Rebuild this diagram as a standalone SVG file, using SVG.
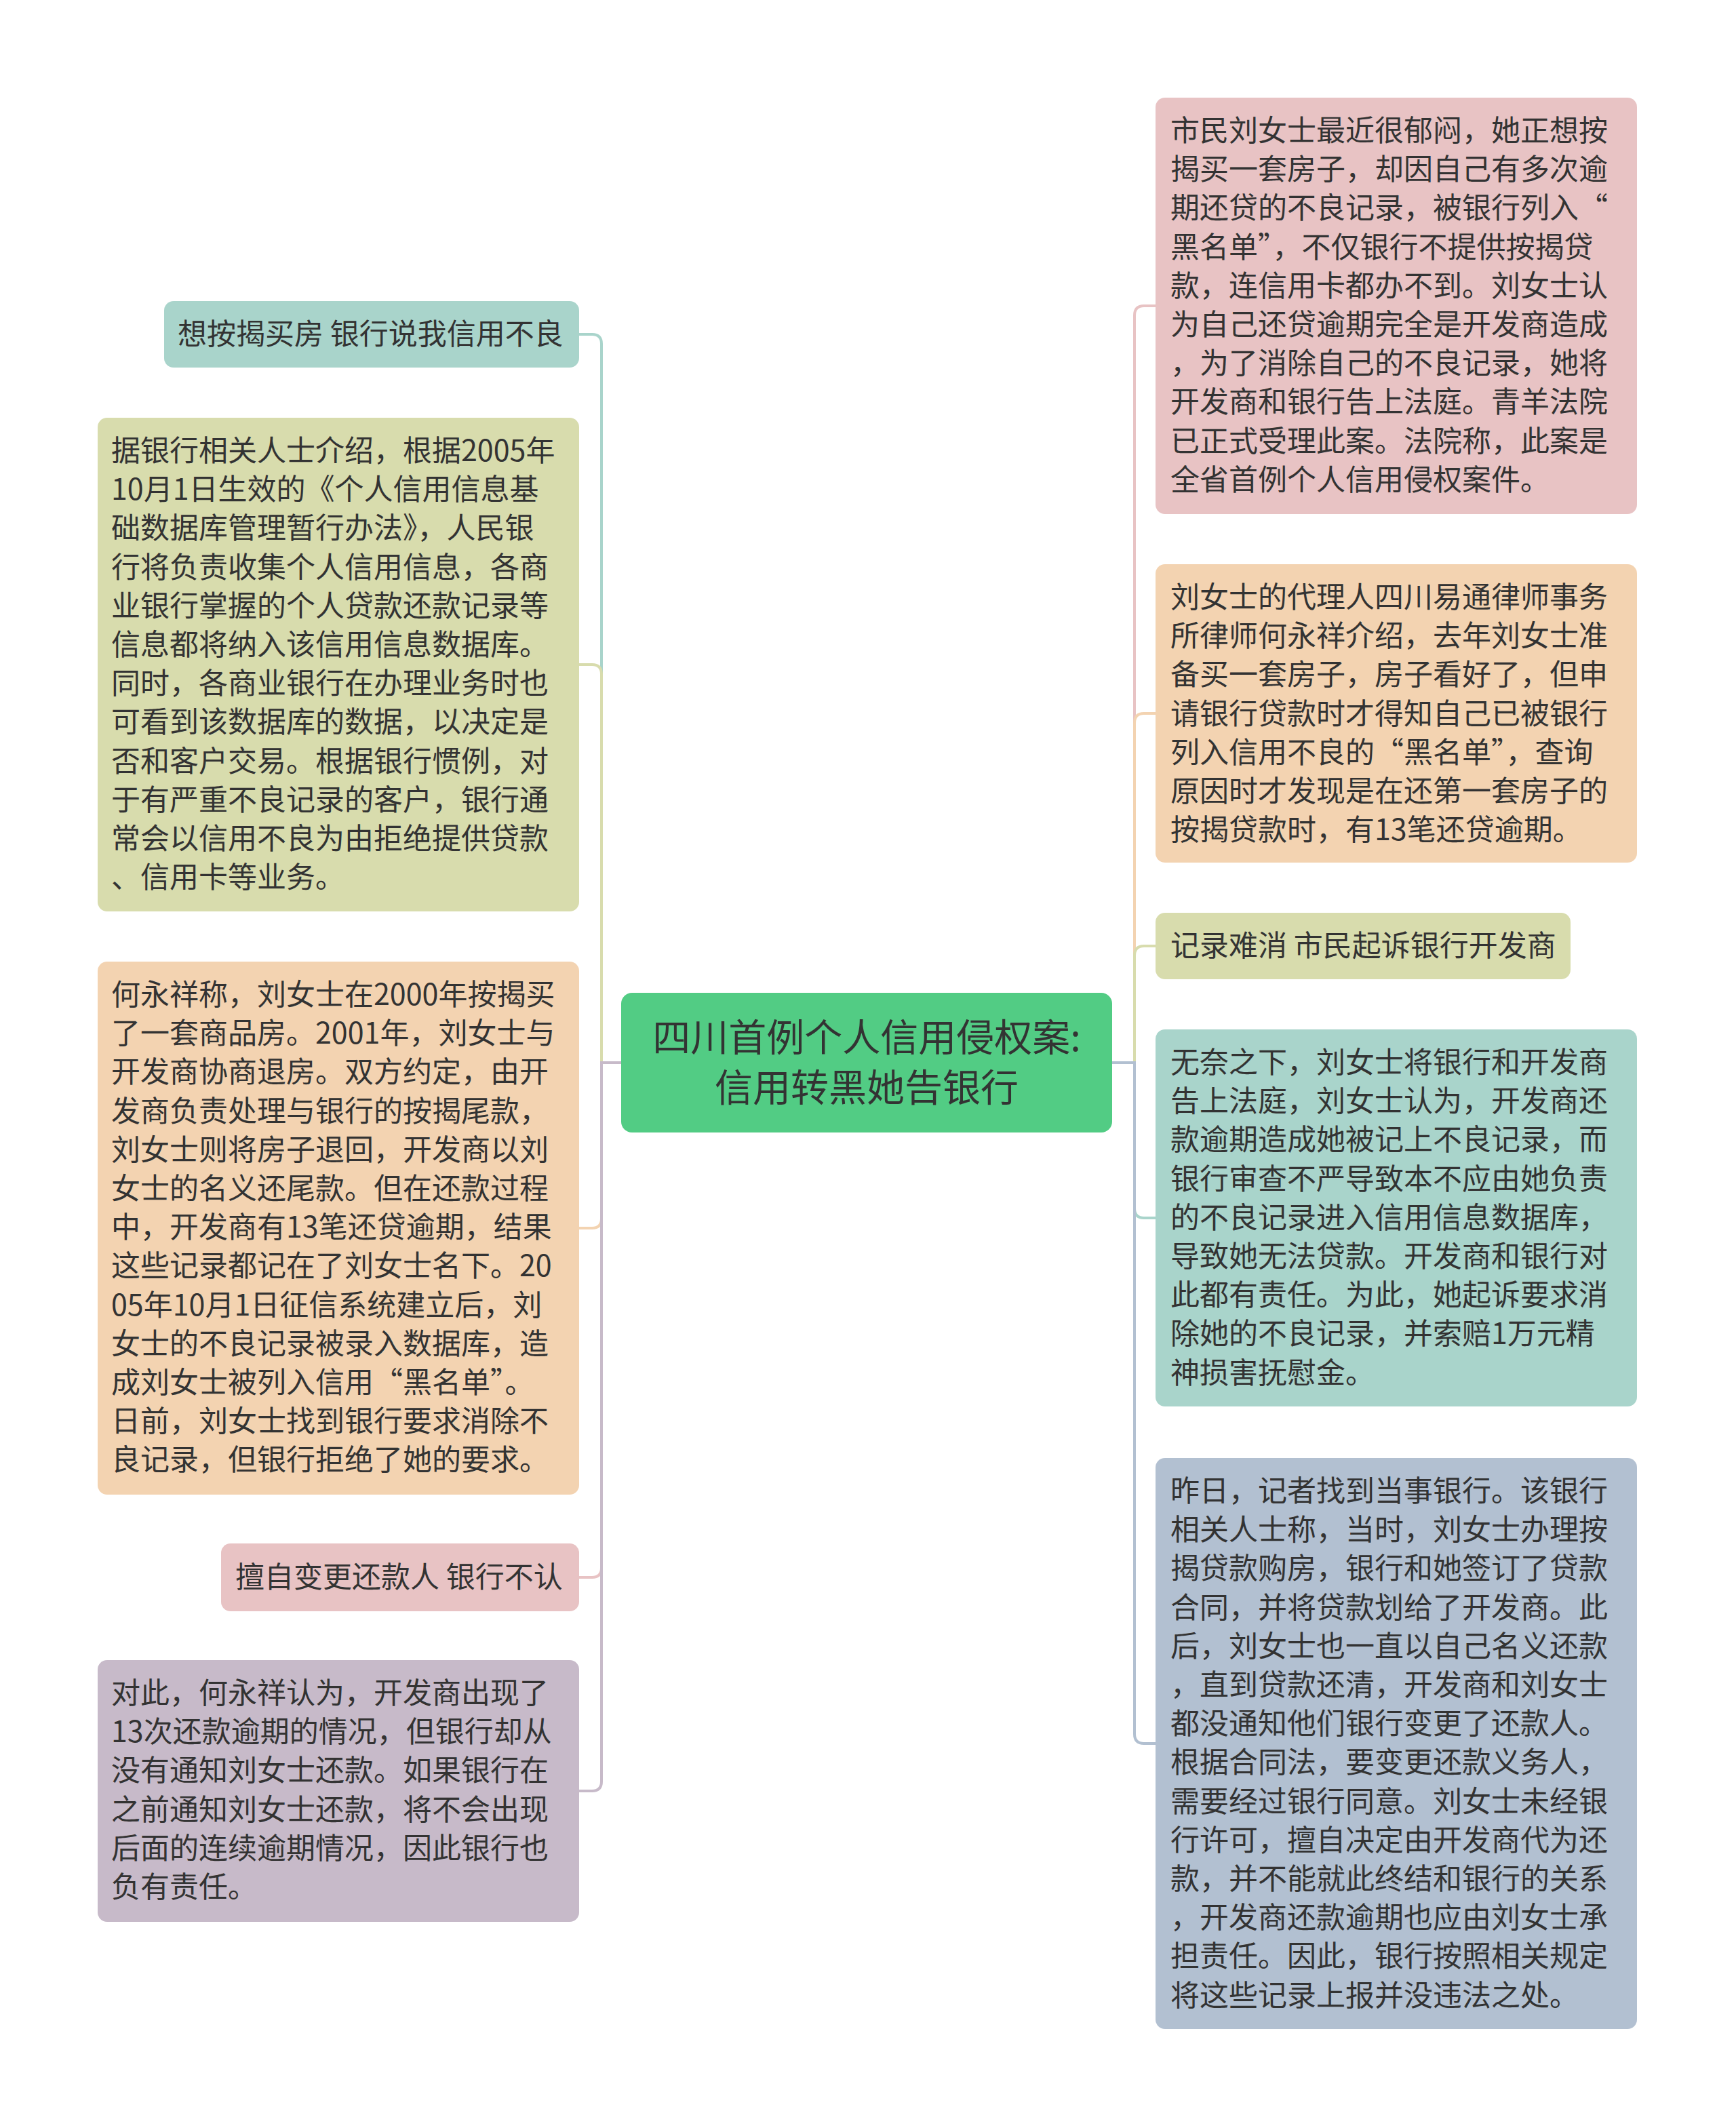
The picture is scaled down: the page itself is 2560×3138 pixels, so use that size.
<svg xmlns="http://www.w3.org/2000/svg" width="2560" height="3138" viewBox="0 0 2560 3138">
<style>
.t{font-family:"Noto Sans CJK SC","Noto Sans",sans-serif;font-size:43px;fill:#333333;}
.c{font-family:"Noto Sans CJK SC","Noto Sans",sans-serif;font-size:56px;fill:#333333;text-anchor:middle;}
.ln{fill:none;stroke-width:4;stroke-linecap:round;}
</style>
<rect x="0" y="0" width="2560" height="3138" fill="#ffffff"/>
<g id="connectors">
<path class="ln" stroke="#a9d4cb" d="M916 1567 H887 V507 Q887 493 873 493 H854"/>
<path class="ln" stroke="#d8dcad" d="M916 1567 H887 V994 Q887 980 873 980 H854"/>
<path class="ln" stroke="#f3d3b1" d="M916 1567 H887 V1797 Q887 1811 873 1811 H854"/>
<path class="ln" stroke="#e8c3c4" d="M916 1567 H887 V2312 Q887 2326 873 2326 H854"/>
<path class="ln" stroke="#c7bac9" d="M916 1567 H887 V2627 Q887 2641 873 2641 H854"/>
<path class="ln" stroke="#e8c3c4" d="M1640 1567 H1673 V465 Q1673 451 1687 451 H1704"/>
<path class="ln" stroke="#f3d3b1" d="M1640 1567 H1673 V1066 Q1673 1052 1687 1052 H1704"/>
<path class="ln" stroke="#d8dcad" d="M1640 1567 H1673 V1409 Q1673 1395 1687 1395 H1704"/>
<path class="ln" stroke="#a9d4cb" d="M1640 1567 H1673 V1782 Q1673 1796 1687 1796 H1704"/>
<path class="ln" stroke="#b2c0d1" d="M1640 1567 H1673 V2557 Q1673 2571 1687 2571 H1704"/>
</g>
<g id="center">
<rect x="916" y="1464" width="724" height="206" rx="16" fill="#52cc84"/>
<text class="c" x="1278" y="1550">四川首例个人信用侵权案:</text>
<text class="c" x="1278" y="1624">信用转黑她告银行</text>
</g>
<g id="L1">
<rect x="242" y="444" width="612" height="98" rx="14" fill="#a9d4cb"/>
<text class="t" x="262" y="508">想按揭买房 银行说我信用不良</text>
</g>
<g id="L2">
<rect x="144" y="616" width="710" height="728" rx="14" fill="#d8dcad"/>
<text class="t" y="680"><tspan x="164">据银行相关人士介绍，根据2005年</tspan><tspan x="164" dy="57.2">10月1日生效的《个人信用信息基</tspan><tspan x="164" dy="57.2">础数据库管理暂行办法》，人民银</tspan><tspan x="164" dy="57.2">行将负责收集个人信用信息，各商</tspan><tspan x="164" dy="57.2">业银行掌握的个人贷款还款记录等</tspan><tspan x="164" dy="57.2">信息都将纳入该信用信息数据库。</tspan><tspan x="164" dy="57.2">同时，各商业银行在办理业务时也</tspan><tspan x="164" dy="57.2">可看到该数据库的数据，以决定是</tspan><tspan x="164" dy="57.2">否和客户交易。根据银行惯例，对</tspan><tspan x="164" dy="57.2">于有严重不良记录的客户，银行通</tspan><tspan x="164" dy="57.2">常会以信用不良为由拒绝提供贷款</tspan><tspan x="164" dy="57.2">、信用卡等业务。</tspan></text>
</g>
<g id="L3">
<rect x="144" y="1418" width="710" height="786" rx="14" fill="#f3d3b1"/>
<text class="t" y="1482"><tspan x="164">何永祥称，刘女士在2000年按揭买</tspan><tspan x="164" dy="57.2">了一套商品房。2001年，刘女士与</tspan><tspan x="164" dy="57.2">开发商协商退房。双方约定，由开</tspan><tspan x="164" dy="57.2">发商负责处理与银行的按揭尾款，</tspan><tspan x="164" dy="57.2">刘女士则将房子退回，开发商以刘</tspan><tspan x="164" dy="57.2">女士的名义还尾款。但在还款过程</tspan><tspan x="164" dy="57.2">中，开发商有13笔还贷逾期，结果</tspan><tspan x="164" dy="57.2">这些记录都记在了刘女士名下。20</tspan><tspan x="164" dy="57.2">05年10月1日征信系统建立后，刘</tspan><tspan x="164" dy="57.2">女士的不良记录被录入数据库，造</tspan><tspan x="164" dy="57.2">成刘女士被列入信用“黑名单”。</tspan><tspan x="164" dy="57.2">日前，刘女士找到银行要求消除不</tspan><tspan x="164" dy="57.2">良记录，但银行拒绝了她的要求。</tspan></text>
</g>
<g id="L4">
<rect x="326" y="2276" width="528" height="100" rx="14" fill="#e8c3c4"/>
<text class="t" x="347" y="2341">擅自变更还款人 银行不认</text>
</g>
<g id="L5">
<rect x="144" y="2448" width="710" height="386" rx="14" fill="#c7bac9"/>
<text class="t" y="2512"><tspan x="164">对此，何永祥认为，开发商出现了</tspan><tspan x="164" dy="57.2">13次还款逾期的情况，但银行却从</tspan><tspan x="164" dy="57.2">没有通知刘女士还款。如果银行在</tspan><tspan x="164" dy="57.2">之前通知刘女士还款，将不会出现</tspan><tspan x="164" dy="57.2">后面的连续逾期情况，因此银行也</tspan><tspan x="164" dy="57.2">负有责任。</tspan></text>
</g>
<g id="R1">
<rect x="1704" y="144" width="710" height="614" rx="14" fill="#e8c3c4"/>
<text class="t" y="208"><tspan x="1726">市民刘女士最近很郁闷，她正想按</tspan><tspan x="1726" dy="57.2">揭买一套房子，却因自己有多次逾</tspan><tspan x="1726" dy="57.2">期还贷的不良记录，被银行列入“</tspan><tspan x="1726" dy="57.2">黑名单”，不仅银行不提供按揭贷</tspan><tspan x="1726" dy="57.2">款，连信用卡都办不到。刘女士认</tspan><tspan x="1726" dy="57.2">为自己还贷逾期完全是开发商造成</tspan><tspan x="1726" dy="57.2">，为了消除自己的不良记录，她将</tspan><tspan x="1726" dy="57.2">开发商和银行告上法庭。青羊法院</tspan><tspan x="1726" dy="57.2">已正式受理此案。法院称，此案是</tspan><tspan x="1726" dy="57.2">全省首例个人信用侵权案件。</tspan></text>
</g>
<g id="R2">
<rect x="1704" y="832" width="710" height="440" rx="14" fill="#f3d3b1"/>
<text class="t" y="896"><tspan x="1726">刘女士的代理人四川易通律师事务</tspan><tspan x="1726" dy="57.2">所律师何永祥介绍，去年刘女士准</tspan><tspan x="1726" dy="57.2">备买一套房子，房子看好了，但申</tspan><tspan x="1726" dy="57.2">请银行贷款时才得知自己已被银行</tspan><tspan x="1726" dy="57.2">列入信用不良的“黑名单”，查询</tspan><tspan x="1726" dy="57.2">原因时才发现是在还第一套房子的</tspan><tspan x="1726" dy="57.2">按揭贷款时，有13笔还贷逾期。</tspan></text>
</g>
<g id="R3">
<rect x="1704" y="1346" width="612" height="98" rx="14" fill="#d8dcad"/>
<text class="t" x="1726" y="1410">记录难消 市民起诉银行开发商</text>
</g>
<g id="R4">
<rect x="1704" y="1518" width="710" height="556" rx="14" fill="#a9d4cb"/>
<text class="t" y="1582"><tspan x="1726">无奈之下，刘女士将银行和开发商</tspan><tspan x="1726" dy="57.2">告上法庭，刘女士认为，开发商还</tspan><tspan x="1726" dy="57.2">款逾期造成她被记上不良记录，而</tspan><tspan x="1726" dy="57.2">银行审查不严导致本不应由她负责</tspan><tspan x="1726" dy="57.2">的不良记录进入信用信息数据库，</tspan><tspan x="1726" dy="57.2">导致她无法贷款。开发商和银行对</tspan><tspan x="1726" dy="57.2">此都有责任。为此，她起诉要求消</tspan><tspan x="1726" dy="57.2">除她的不良记录，并索赔1万元精</tspan><tspan x="1726" dy="57.2">神损害抚慰金。</tspan></text>
</g>
<g id="R5">
<rect x="1704" y="2150" width="710" height="842" rx="14" fill="#b2c0d1"/>
<text class="t" y="2214"><tspan x="1726">昨日，记者找到当事银行。该银行</tspan><tspan x="1726" dy="57.2">相关人士称，当时，刘女士办理按</tspan><tspan x="1726" dy="57.2">揭贷款购房，银行和她签订了贷款</tspan><tspan x="1726" dy="57.2">合同，并将贷款划给了开发商。此</tspan><tspan x="1726" dy="57.2">后，刘女士也一直以自己名义还款</tspan><tspan x="1726" dy="57.2">，直到贷款还清，开发商和刘女士</tspan><tspan x="1726" dy="57.2">都没通知他们银行变更了还款人。</tspan><tspan x="1726" dy="57.2">根据合同法，要变更还款义务人，</tspan><tspan x="1726" dy="57.2">需要经过银行同意。刘女士未经银</tspan><tspan x="1726" dy="57.2">行许可，擅自决定由开发商代为还</tspan><tspan x="1726" dy="57.2">款，并不能就此终结和银行的关系</tspan><tspan x="1726" dy="57.2">，开发商还款逾期也应由刘女士承</tspan><tspan x="1726" dy="57.2">担责任。因此，银行按照相关规定</tspan><tspan x="1726" dy="57.2">将这些记录上报并没违法之处。</tspan></text>
</g>
</svg>
